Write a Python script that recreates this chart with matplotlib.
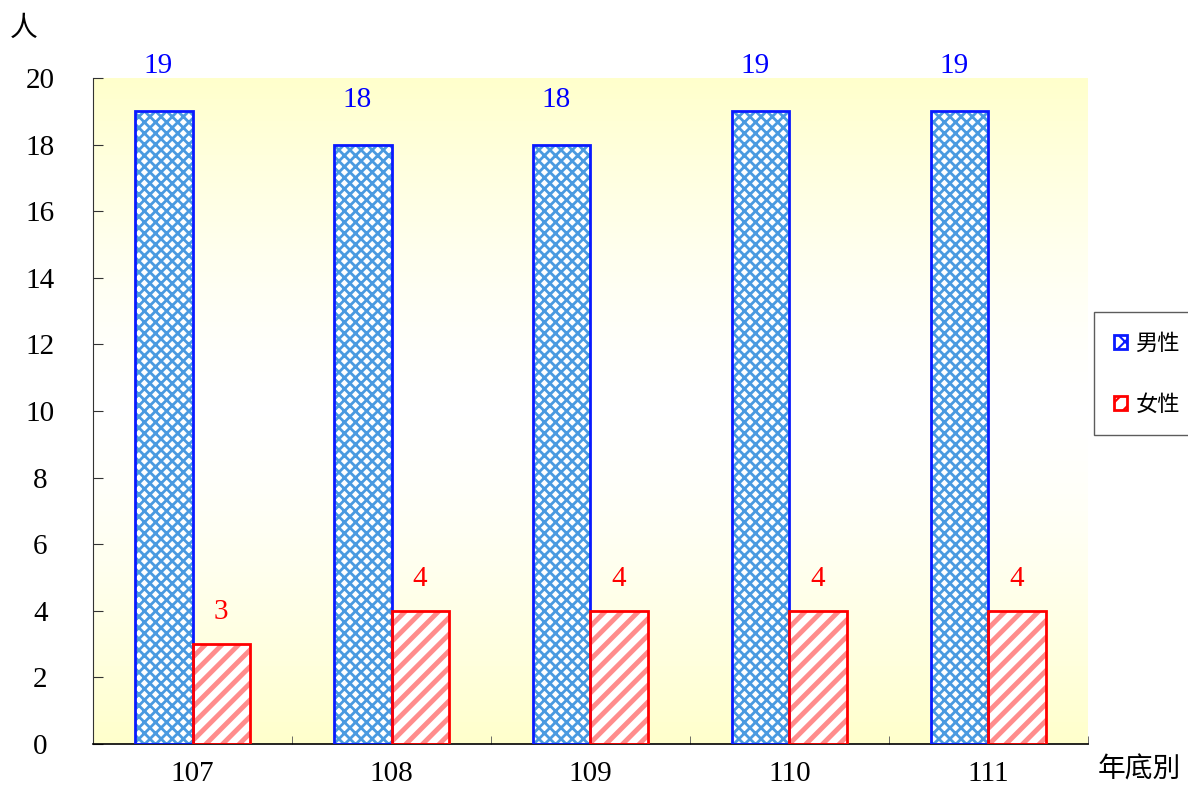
import matplotlib.pyplot as plt
import numpy as np
from matplotlib.patches import Patch

plt.rcParams['font.family'] = ['Liberation Serif', 'Noto Sans CJK TC']

years = ['107', '108', '109', '110', '111']
male = [19, 18, 18, 19, 19]
female = [3, 4, 4, 4, 4]

fig = plt.figure(figsize=(11.88, 7.88), dpi=100)
ax = fig.add_axes([0.0783, 0.0558, 0.8375, 0.8452])

# yellow - white - yellow background
grad = np.concatenate([np.linspace(1, 0, 60), np.linspace(0, 1, 60)]) ** 1.5
yel = np.array([1, 1, 0.8])
img = np.ones((120, 1, 3)) * (1 - grad[:, None, None]) + yel * grad[:, None, None]
ax.imshow(img, extent=[-0.5, 4.5, 0, 20], aspect='auto', zorder=0)

x = np.arange(len(years))
w = 0.287

# fill + hatch, then outline
plt.rcParams['hatch.linewidth'] = 2.0
ax.bar(x - w / 2, male, w, color='white', edgecolor='#4a9ae0', hatch='xxx', linewidth=0, zorder=2)
plt.rcParams['hatch.linewidth'] = 3.5
ax.bar(x + w / 2, female, w, color='white', edgecolor='#ff8c8c', hatch='//', linewidth=0, zorder=2)
ax.bar(x - w / 2, male, w, fill=False, edgecolor='#0a1aff', linewidth=2, zorder=3)
ax.bar(x + w / 2, female, w, fill=False, edgecolor='#ff0000', linewidth=2, zorder=3)

for i in range(len(years)):
    ax.annotate(str(male[i]), (x[i] - w / 2, male[i]), xytext=(-6, 45), textcoords='offset pixels',
                ha='center', va='center', color='#0000ff', fontsize=21)
    ax.annotate(str(female[i]), (x[i] + w / 2, female[i]), xytext=(0, 32), textcoords='offset pixels',
                ha='center', va='center', color='#ff0000', fontsize=21)

ax.set_xlim(-0.5, 4.5)
ax.set_ylim(0, 20)
ax.set_yticks(range(0, 21, 2))
ax.set_xticks(x)
ax.set_xticklabels(years)
ax.set_xticks(np.arange(-0.5, 5, 1), minor=True)
ax.tick_params(axis='x', which='major', length=0, pad=12, labelsize=21)
ax.tick_params(axis='x', which='minor', direction='in', length=6, color='#555555')
ax.tick_params(axis='y', direction='in', length=7, color='#333333', labelsize=21, pad=38)
for t in ax.get_yticklabels():
    t.set_horizontalalignment('center')

ax.spines['top'].set_visible(False)
ax.spines['right'].set_visible(False)
ax.spines['left'].set_color('#333333')
ax.spines['bottom'].set_color('black')
ax.spines['bottom'].set_linewidth(1.2)

fig.text(0.008, 0.965, '人', fontsize=20, family='Noto Sans CJK TC', va='center', ha='left')
fig.text(0.994, 0.024, '年底別', fontsize=20, family='Noto Sans CJK TC', va='center', ha='right')

plt.rcParams['hatch.linewidth'] = 1.5
handles = [Patch(facecolor='white', edgecolor='#0a1aff', hatch='xx', linewidth=2),
           Patch(facecolor='white', edgecolor='#ff0000', hatch='//', linewidth=2)]
leg = fig.legend(handles, ['男性', '女性'], loc='center left', bbox_to_anchor=(0.921, 0.526),
                 borderaxespad=0, frameon=True, fancybox=False, edgecolor='#333333',
                 handlelength=0.6, handleheight=0.6, handletextpad=0.35, labelspacing=1.7,
                 borderpad=0.9, prop={'family': 'Noto Sans CJK TC', 'size': 16})
leg.get_frame().set_linewidth(1)

fig.savefig('out.png', dpi=100)
